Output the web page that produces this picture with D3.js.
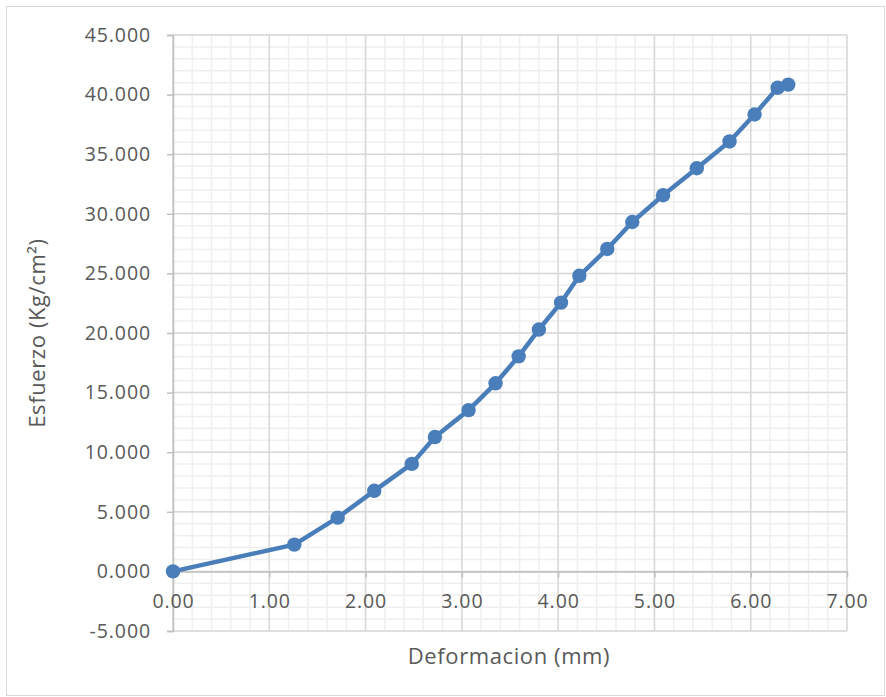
<!DOCTYPE html>
<html>
<head>
<meta charset="utf-8">
<script src="https://cdn.jsdelivr.net/npm/d3@7"></script>
<style>
  html, body { margin: 0; padding: 0; background: #fff; }
  svg { display: block; }
</style>
</head>
<body>
<svg id="chart" width="886" height="697"></svg>
<script>
// Deformation (mm) vs. stress (Kg/cm²)
const deformacion = [0.00, 1.26, 1.71, 2.09, 2.48, 2.72, 3.07, 3.35, 3.59, 3.80,
                     4.03, 4.22, 4.51, 4.77, 5.09, 5.44, 5.78, 6.04, 6.28, 6.39];
const esfuerzo = [0.000, 2.250, 4.510, 6.760, 9.020, 11.270, 13.530, 15.780, 18.040, 20.290,
                  22.550, 24.800, 27.050, 29.310, 31.560, 33.820, 36.070, 38.330, 40.580, 40.840];
const xTicks = [0, 1, 2, 3, 4, 5, 6, 7];
const yTicks = [-5, 0, 5, 10, 15, 20, 25, 30, 35, 40, 45];

const xTitle = "Deformacion (mm)";
const yTitle = "Esfuerzo (Kg/cm²)";

const svg = d3.select("#chart");
const W = 886, H = 697;
const plot = { left: 173, right: 847, top: 35, bottom: 631 };

const fontFamily = "'Open Sans', 'Noto Sans', sans-serif";
const textColor = "#595959";
const tickFont = "19.5px";
const tickSpacing = "0.9px";

// chart frame
svg.append("rect")
  .attr("x", 6.5).attr("y", 6.5)
  .attr("width", W - 8).attr("height", H - 8)
  .attr("fill", "#fff").attr("stroke", "#d9d9d9").attr("stroke-width", 1);

const x = d3.scaleLinear().domain([0, 7]).range([plot.left, plot.right]);
const y = d3.scaleLinear().domain([-5, 45]).range([plot.bottom, plot.top]);

// number formats with a plain hyphen for negatives
const fmt3 = v => (v < 0 ? "-" : "") + Math.abs(v).toFixed(3);
const fmt2 = v => (v < 0 ? "-" : "") + Math.abs(v).toFixed(2);

// minor gridlines
const xMinor = d3.range(0, 7.0001, 0.2);
const yMinor = d3.range(-5, 45.0001, 1);
const grid = svg.append("g");
grid.selectAll("line.xm").data(xMinor).join("line")
  .attr("x1", d => x(d)).attr("x2", d => x(d))
  .attr("y1", plot.top).attr("y2", plot.bottom)
  .attr("stroke", "#efefef").attr("stroke-width", 1.5);
grid.selectAll("line.ym").data(yMinor).join("line")
  .attr("x1", plot.left).attr("x2", plot.right)
  .attr("y1", d => y(d)).attr("y2", d => y(d))
  .attr("stroke", "#efefef").attr("stroke-width", 1.5);

// major gridlines
grid.selectAll("line.xM").data(xTicks).join("line")
  .attr("x1", d => x(d)).attr("x2", d => x(d))
  .attr("y1", plot.top).attr("y2", plot.bottom)
  .attr("stroke", "#d9d9d9").attr("stroke-width", 1.5);
grid.selectAll("line.yM").data(yTicks).join("line")
  .attr("x1", plot.left).attr("x2", plot.right)
  .attr("y1", d => y(d)).attr("y2", d => y(d))
  .attr("stroke", "#d9d9d9").attr("stroke-width", 1.5);

// y axis on the left edge
const yAxis = d3.axisLeft(y).tickValues(yTicks)
  .tickFormat(fmt3).tickSize(6).tickPadding(16);
const gy = svg.append("g").attr("transform", `translate(${plot.left},0)`).call(yAxis);
gy.select(".domain").attr("stroke", "#bfbfbf").attr("stroke-width", 1.5);
gy.selectAll(".tick line").attr("stroke", "#bfbfbf").attr("stroke-width", 1.5);
gy.selectAll("text").attr("fill", textColor)
  .style("font-family", fontFamily).style("font-size", tickFont)
  .style("letter-spacing", tickSpacing);

// x axis crossing at zero
const xAxis = d3.axisBottom(x).tickValues(xTicks)
  .tickFormat(fmt2).tickSizeInner(6).tickSizeOuter(0).tickPadding(17);
const gx = svg.append("g").attr("transform", `translate(0,${y(0)})`).call(xAxis);
gx.select(".domain").attr("stroke", "#bfbfbf").attr("stroke-width", 1.5);
gx.selectAll(".tick line").attr("stroke", "#bfbfbf").attr("stroke-width", 1.5);
gx.selectAll("text").attr("fill", textColor)
  .style("font-family", fontFamily).style("font-size", tickFont)
  .style("letter-spacing", tickSpacing);

// series
const pts = deformacion.map((d, i) => ({ x: d, y: esfuerzo[i] }));
const color = "#4a7ebb";
svg.append("path").datum(pts)
  .attr("fill", "none").attr("stroke", color).attr("stroke-width", 4.5)
  .attr("stroke-linejoin", "round").attr("stroke-linecap", "round")
  .attr("d", d3.line().x(d => x(d.x)).y(d => y(d.y)));
svg.append("g").selectAll("circle").data(pts).join("circle")
  .attr("cx", d => x(d.x)).attr("cy", d => y(d.y)).attr("r", 7.2)
  .attr("fill", color);

// axis titles
svg.append("text")
  .attr("x", 509).attr("y", 664)
  .attr("text-anchor", "middle").attr("fill", textColor)
  .style("font-family", fontFamily).style("font-size", "22px")
  .style("letter-spacing", "0.6px")
  .text(xTitle);
svg.append("text")
  .attr("transform", `translate(45,${(plot.top + plot.bottom) / 2}) rotate(-90)`)
  .attr("text-anchor", "middle").attr("fill", textColor)
  .style("font-family", fontFamily).style("font-size", "22px")
  .style("letter-spacing", "0.6px")
  .text(yTitle);
</script>
</body>
</html>
